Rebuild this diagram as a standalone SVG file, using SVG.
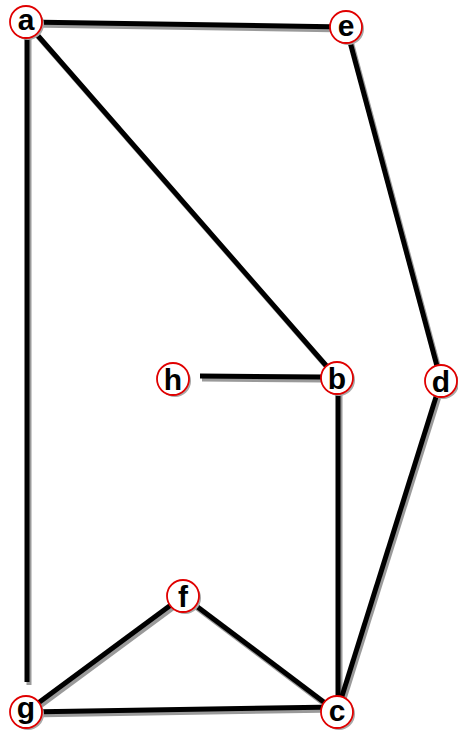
<svg xmlns="http://www.w3.org/2000/svg" width="458" height="733" viewBox="0 0 458 733">
<style>
.sh{stroke:#9a9a9a;stroke-width:5;fill:none}
.ln{stroke:#000;stroke-width:5;fill:none}
.cs{fill:#a8a8a8;stroke:none}
.cc{fill:#fff;stroke:#e00000;stroke-width:1.8}
.lb{font-family:"Liberation Sans",Arial,sans-serif;font-weight:bold;font-size:30px;fill:#000;text-anchor:middle}
</style>
<rect width="458" height="733" fill="#fff"/>
<g id="connectors">
<g transform="translate(2,3)">
<line class="sh" x1="26" y1="22" x2="346" y2="27"/>
<line class="sh" x1="26" y1="22" x2="337" y2="378"/>
<line class="sh" x1="27" y1="30" x2="27" y2="682"/>
<line class="sh" x1="346" y1="27" x2="441" y2="381"/>
<line class="sh" x1="200" y1="376" x2="322" y2="377"/>
<line class="sh" x1="338" y1="378" x2="338" y2="712"/>
<line class="sh" x1="441" y1="381" x2="337" y2="712"/>
<line class="sh" x1="183" y1="596" x2="26" y2="712"/>
<line class="sh" x1="183" y1="596" x2="337" y2="712"/>
<line class="sh" x1="26" y1="712" x2="337" y2="707"/>
</g>
<line class="ln" x1="26" y1="22" x2="346" y2="27"/>
<line class="ln" x1="26" y1="22" x2="337" y2="378"/>
<line class="ln" x1="27" y1="30" x2="27" y2="682"/>
<line class="ln" x1="346" y1="27" x2="441" y2="381"/>
<line class="ln" x1="200" y1="376" x2="322" y2="377"/>
<line class="ln" x1="338" y1="378" x2="338" y2="712"/>
<line class="ln" x1="441" y1="381" x2="337" y2="712"/>
<line class="ln" x1="183" y1="596" x2="26" y2="712"/>
<line class="ln" x1="183" y1="596" x2="337" y2="712"/>
<line class="ln" x1="26" y1="712" x2="337" y2="707"/>
</g>
<g id="a"><circle class="cs" cx="28" cy="24" r="16"/><circle class="cc" cx="26" cy="22" r="16"/><text class="lb" x="26" y="30">a</text></g>
<g id="e"><circle class="cs" cx="348" cy="29" r="16"/><circle class="cc" cx="346" cy="27" r="16"/><text class="lb" x="346" y="36">e</text></g>
<g id="h"><circle class="cs" cx="175" cy="381" r="16"/><circle class="cc" cx="173" cy="379" r="16"/><text class="lb" x="173" y="390">h</text></g>
<g id="b"><circle class="cs" cx="339" cy="380" r="16"/><circle class="cc" cx="337" cy="378" r="16"/><text class="lb" x="337" y="389">b</text></g>
<g id="d"><circle class="cs" cx="443" cy="383" r="16"/><circle class="cc" cx="441" cy="381" r="16"/><text class="lb" x="441" y="392">d</text></g>
<g id="f"><circle class="cs" cx="185" cy="598" r="16"/><circle class="cc" cx="183" cy="596" r="16"/><text class="lb" x="183" y="607">f</text></g>
<g id="g"><circle class="cs" cx="28" cy="714" r="16"/><circle class="cc" cx="26" cy="712" r="16"/><text class="lb" x="26" y="718">g</text></g>
<g id="c"><circle class="cs" cx="339" cy="714" r="16"/><circle class="cc" cx="337" cy="712" r="16"/><text class="lb" x="337" y="721">c</text></g>
</svg>
